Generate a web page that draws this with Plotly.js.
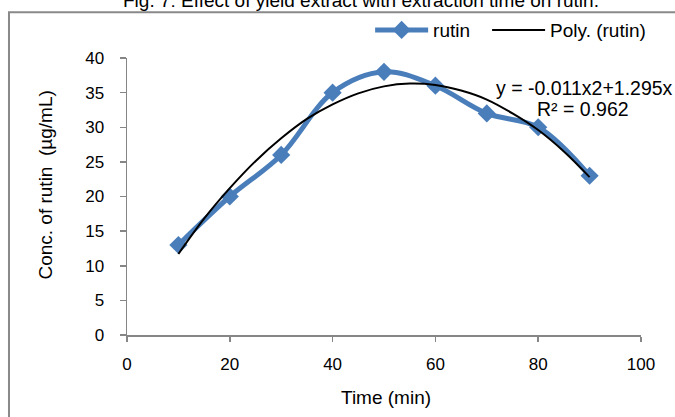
<!DOCTYPE html>
<html>
<head>
<meta charset="utf-8">
<script src="https://cdn.plot.ly/plotly-3.0.1.min.js"></script>
<style>html,body{margin:0;padding:0;background:#fff;}#chart{width:675px;height:417px;}</style>
</head>
<body>
<div id="chart"></div>
<script>
// Data
var timeMin = [10, 20, 30, 40, 50, 60, 70, 80, 90];
var rutin = [13, 20, 26, 35, 38, 36, 32, 30, 23];
// Poly. (rutin) trendline
var trendX = [10, 15, 20, 25, 30, 35, 40, 45, 50, 55, 60, 65, 70, 75, 80, 85, 90];
var trendY = [11.7, 16.8, 21.2, 25.1, 28.4, 31.2, 33.3, 34.9, 35.9, 36.3, 36.1, 35.3, 34.0, 32.0, 29.6, 26.5, 22.8];
var xTicks = [0, 20, 40, 60, 80, 100];
var yTicks = [0, 5, 10, 15, 20, 25, 30, 35, 40];

var FONT = '"Liberation Sans", Arial, sans-serif';
var AXC = '#868686';

var traces = [
  {
    x: timeMin, y: rutin, name: 'rutin', type: 'scatter', mode: 'lines+markers',
    line: {color: '#4A7EBB', width: 5, shape: 'spline', smoothing: 1},
    marker: {symbol: 'diamond', size: 14, color: '#4A7EBB'}
  },
  {
    x: trendX, y: trendY, name: 'Poly. (rutin)', type: 'scatter', mode: 'lines',
    line: {color: '#000000', width: 2, shape: 'spline', smoothing: 1}
  }
];

var layout = {
  width: 675, height: 417,
  margin: {l: 127, r: 34, t: 57, b: 82, pad: 0},
  paper_bgcolor: '#ffffff', plot_bgcolor: '#ffffff',
  font: {family: FONT, size: 18, color: '#000'},
  showlegend: true,
  legend: {
    orientation: 'h', x: 0.473, xanchor: 'left', y: 1.097, yanchor: 'middle',
    font: {family: FONT, size: 19, color: '#000'}, bgcolor: 'rgba(0,0,0,0)',
    itemwidth: 53, tracegroupgap: 0
  },
  xaxis: {
    range: [0, 100], tickvals: xTicks, ticktext: xTicks.map(String),
    showgrid: false, zeroline: false, showline: true, linecolor: AXC, linewidth: 1.5,
    ticks: 'outside', ticklen: 5, tickcolor: AXC, tickwidth: 1.5,
    tickfont: {family: FONT, size: 17, color: '#000'}, ticklabelstandoff: 8, fixedrange: true
  },
  yaxis: {
    range: [0, 40], tickvals: yTicks, ticktext: yTicks.map(String),
    showgrid: false, zeroline: false, showline: true, linecolor: AXC, linewidth: 1.5,
    ticks: 'outside', ticklen: 6, tickcolor: AXC, tickwidth: 1.5,
    tickfont: {family: FONT, size: 17, color: '#000'}, ticklabelstandoff: 12, fixedrange: true
  },
  shapes: [
    {type: 'rect', xref: 'paper', yref: 'paper', x0: -0.2296, x1: 1.3, y0: -0.5, y1: 1.1655,
     line: {color: '#898989', width: 2}, fillcolor: 'rgba(0,0,0,0)', layer: 'below'}
  ],
  annotations: [
    {text: 'Fig. 7: Effect of yield extract with extraction time on rutin.', xref: 'paper', yref: 'paper',
     x: 0.455, y: 1.162, xanchor: 'center', yanchor: 'bottom', showarrow: false,
     font: {family: FONT, size: 19, color: '#000'}},
    {text: 'Conc. of rutin  (µg/mL)', xref: 'paper', yref: 'paper', x: -0.1576, y: 0.543,
     xanchor: 'center', yanchor: 'middle', textangle: -90, showarrow: false,
     font: {family: FONT, size: 19, color: '#000'}},
    {text: 'Time (min)', xref: 'paper', yref: 'paper', x: 0.504, y: -0.2266,
     xanchor: 'center', yanchor: 'middle', showarrow: false,
     font: {family: FONT, size: 19, color: '#000'}},
    {text: 'y = -0.011x2+1.295x', xref: 'paper', yref: 'paper', x: 0.714, y: 0.892,
     xanchor: 'left', yanchor: 'middle', showarrow: false,
     font: {family: FONT, size: 19.5, color: '#000'}},
    {text: 'R² = 0.962', xref: 'paper', yref: 'paper', x: 0.887, y: 0.8165,
     xanchor: 'center', yanchor: 'middle', showarrow: false,
     font: {family: FONT, size: 19.5, color: '#000'}}
  ]
};

var gd = document.getElementById('chart');
Plotly.newPlot(gd, traces, layout, {displayModeBar: false, staticPlot: true}).then(function () {
  // Let legend entries draw past the legend's computed clip box
  gd.querySelectorAll('.legend [clip-path]').forEach(function (el) { el.removeAttribute('clip-path'); });
  // Lengthen the legend line symbols to match the reference (Excel-style longer keys)
  var items = gd.querySelectorAll('.legend .traces');
  items.forEach(function (t, i) {
    t.querySelectorAll('path.js-line').forEach(function (ln) { ln.setAttribute('d', 'M5,0h53'); });
    t.querySelectorAll('.scatterpts path.point').forEach(function (p) { p.setAttribute('transform', 'translate(31.5,0)'); });
    if (i === 1) {
      var tr = t.getAttribute('transform') || '';
      var m = /translate\(\s*([-\d.]+)[ ,]+([-\d.]+)\s*\)/.exec(tr);
      if (m) t.setAttribute('transform', 'translate(' + (parseFloat(m[1]) + 12) + ',' + m[2] + ')');
    }
  });
});
</script>
</body>
</html>
